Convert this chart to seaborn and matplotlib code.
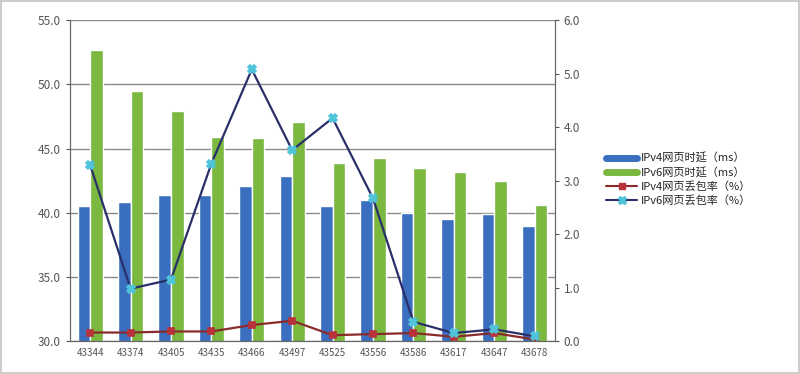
import pandas as pd
import seaborn as sns
import matplotlib.pyplot as plt
from matplotlib.lines import Line2D
from matplotlib.ticker import FormatStrFormatter

# Data
months = ['43344', '43374', '43405', '43435', '43466', '43497',
          '43525', '43556', '43586', '43617', '43647', '43678']
ipv4_delay = [40.5, 40.8, 41.4, 41.4, 42.1, 42.9, 40.5, 41.0, 40.0, 39.5, 39.9, 39.0]
ipv6_delay = [52.7, 49.5, 47.9, 45.9, 45.8, 47.1, 43.9, 44.3, 43.5, 43.2, 42.5, 40.6]
ipv4_loss = [0.16, 0.16, 0.18, 0.18, 0.30, 0.38, 0.11, 0.13, 0.15, 0.08, 0.15, 0.03]
ipv6_loss = [3.29, 0.98, 1.15, 3.32, 5.08, 3.57, 4.17, 2.67, 0.36, 0.15, 0.22, 0.09]

labels = ['IPv4网页时延（ms）', 'IPv6网页时延（ms）',
          'IPv4网页丢包率（%）', 'IPv6网页丢包率（%）']
bar_colors = ['#3a6fbf', '#7ab83f']
line_colors = ['#8b2a2a', '#2a2f6a']
marker_colors = ['#b8323a', '#4fc3d9']

bars = pd.DataFrame({
    'month': months * 2,
    'value': ipv4_delay + ipv6_delay,
    'series': [labels[0]] * len(months) + [labels[1]] * len(months),
})
lines = pd.DataFrame({'month': months, 'v4': ipv4_loss, 'v6': ipv6_loss})

sns.set_style('white')
plt.rcParams['font.family'] = ['Noto Sans CJK SC', 'DejaVu Sans']

fig = plt.figure(figsize=(8, 3.74), dpi=100)
fig.patch.set_edgecolor('#cccccc')
fig.patch.set_linewidth(1.5)
ax = fig.add_axes([0.0875, 0.088, 0.606, 0.858])

sns.barplot(data=bars, x='month', y='value', hue='series', palette=bar_colors,
            width=0.62, ax=ax, legend=False, saturation=1)
ax.set_ylim(30, 55)
ax.set_yticks([30, 35, 40, 45, 50, 55])
ax.yaxis.set_major_formatter(FormatStrFormatter('%.1f'))
ax.yaxis.grid(True, color='#8a8a8a', linewidth=1.0)
ax.set_axisbelow(True)
ax.set_xlabel('')
ax.set_ylabel('')

ax2 = ax.twinx()
sns.pointplot(data=lines, x='month', y='v4', color=line_colors[0], marker='s',
              markersize=5, linewidth=1.6, ax=ax2)
sns.pointplot(data=lines, x='month', y='v6', color=line_colors[1], marker='X',
              markersize=6, linewidth=1.6, ax=ax2)
marked = [ln for ln in ax2.lines if ln.get_marker() not in (None, '', 'None')]
for ln, mc in zip(marked, marker_colors):
    ln.set_markerfacecolor(mc)
    ln.set_markeredgecolor(mc)
ax2.set_ylim(0, 6)
ax2.set_yticks(range(7))
ax2.yaxis.set_major_formatter(FormatStrFormatter('%.1f'))
ax2.set_ylabel('')
ax2.grid(False)

for a in (ax, ax2):
    a.spines['top'].set_visible(False)
    for s in ('left', 'right', 'bottom'):
        a.spines[s].set_color('#666666')
    a.tick_params(axis='y', labelsize=8.5, colors='#555555', length=3, direction='out')
ax.tick_params(axis='x', labelsize=7, colors='#555555', length=3, pad=2)
ax.set_xlim(-0.5, len(months) - 0.5)

handles = [
    Line2D([], [], color=bar_colors[0], linewidth=5),
    Line2D([], [], color=bar_colors[1], linewidth=5),
    Line2D([], [], color=line_colors[0], marker='s', markersize=5,
           markerfacecolor=marker_colors[0], markeredgecolor=marker_colors[0]),
    Line2D([], [], color=line_colors[1], marker='X', markersize=6,
           markerfacecolor=marker_colors[1], markeredgecolor=marker_colors[1]),
]
fig.legend(handles, labels, loc='center left', bbox_to_anchor=(0.745, 0.52),
           frameon=False, fontsize=8, handlelength=2.8, labelspacing=0.3,
           handletextpad=0.3)

fig.savefig('out.png', dpi=100)
